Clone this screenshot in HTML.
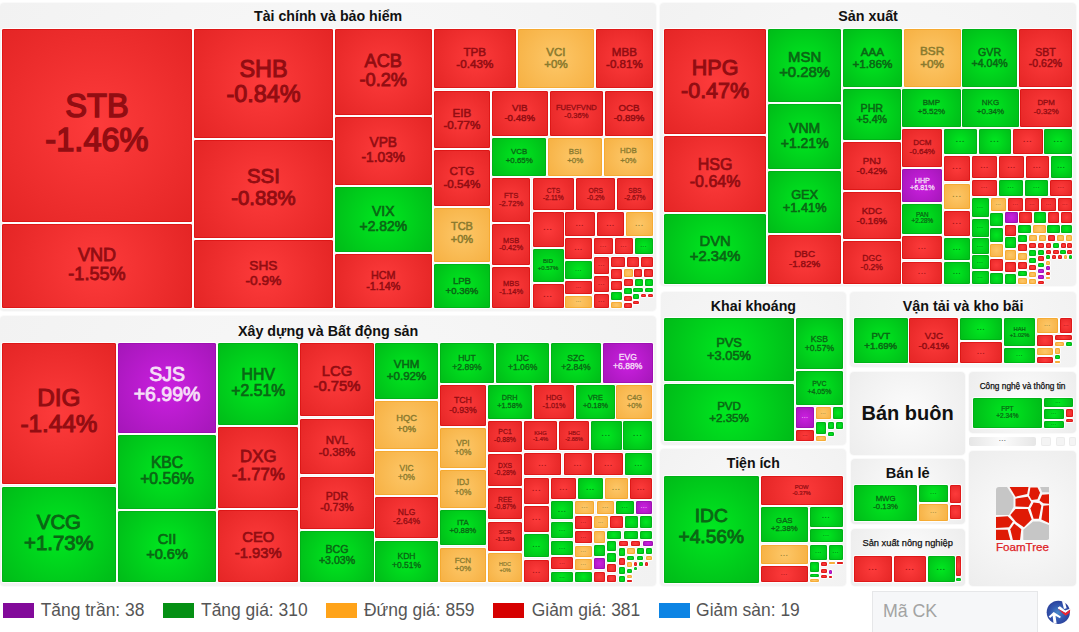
<!DOCTYPE html>
<html><head><meta charset="utf-8"><title>Heatmap</title>
<style>
html,body{margin:0;padding:0;background:#fff;}
body{width:1079px;height:632px;position:relative;overflow:hidden;font-family:"Liberation Sans",sans-serif;}
.g{position:absolute;border-radius:4px;box-shadow:0 0 0 1px #fafafa;}
.gt{position:absolute;left:0;width:100%;text-align:center;font-weight:bold;color:#111;white-space:nowrap;}
.c{position:absolute;border-radius:1.5px;box-shadow:0 0 0 1px rgba(255,255,255,.85);}
.R{background:radial-gradient(circle farthest-corner at center,#fd3b3b 0%,#e42525 100%);color:#920d12;box-shadow:inset 0 0 0 1px rgba(214,10,10,.55),0 0 0 1px rgba(255,255,255,.85);}
.G{background:radial-gradient(circle farthest-corner at center,#00e820 0%,#00ba18 100%);color:#0a6614;box-shadow:inset 0 0 0 1px rgba(0,165,20,.55),0 0 0 1px rgba(255,255,255,.85);}
.O{background:radial-gradient(circle farthest-corner at center,#fdc768 0%,#f6b042 100%);color:#8a7a2e;box-shadow:inset 0 0 0 1px rgba(244,160,30,.55),0 0 0 1px rgba(255,255,255,.85);}
.P{background:radial-gradient(circle farthest-corner at center,#cb20e0 0%,#a416b8 100%);color:#f6dff8;box-shadow:inset 0 0 0 1px rgba(150,10,170,.55),0 0 0 1px rgba(255,255,255,.85);}
.t{position:absolute;left:-20px;right:-20px;text-align:center;font-weight:normal;-webkit-text-stroke:0.045em currentColor;white-space:nowrap;}
.d{position:absolute;left:0;right:0;text-align:center;font-weight:bold;white-space:nowrap;color:inherit;opacity:.85;}
.lg{position:absolute;top:603px;height:14.5px;width:31px;}
.lt{position:absolute;font-size:17.45px;line-height:20px;top:599.5px;color:#555;white-space:nowrap;}
</style></head><body>
<div class="g" style="left:0px;top:3px;width:656.2px;height:308.2px;background:radial-gradient(circle farthest-corner at center,#f9f9f9 0%,#f2f2f2 100%)"><div class="gt" style="top:6.48px;font-size:14.2px;line-height:14.2px">Tài chính và bảo hiểm</div></div>
<div class="g" style="left:660.2px;top:3px;width:415.8px;height:283.3px;background:radial-gradient(circle farthest-corner at center,#f9f9f9 0%,#f2f2f2 100%)"><div class="gt" style="top:6.4px;font-size:14.3px;line-height:14.3px">Sản xuất</div></div>
<div class="g" style="left:0px;top:316px;width:656.2px;height:269.6px;background:radial-gradient(circle farthest-corner at center,#f9f9f9 0%,#f2f2f2 100%)"><div class="gt" style="top:7.5px;font-size:14.3px;line-height:14.3px">Xây dựng và Bất động sản</div></div>
<div class="g" style="left:660.5px;top:291.7px;width:185.8px;height:153.2px;background:radial-gradient(circle farthest-corner at center,#f9f9f9 0%,#f2f2f2 100%)"><div class="gt" style="top:7.08px;font-size:14.2px;line-height:14.2px">Khai khoáng</div></div>
<div class="g" style="left:660.4px;top:449.4px;width:185.8px;height:136.2px;background:radial-gradient(circle farthest-corner at center,#f9f9f9 0%,#f2f2f2 100%)"><div class="gt" style="top:6.36px;font-size:14.1px;line-height:14.1px">Tiện ích</div></div>
<div class="g" style="left:850.3px;top:292px;width:225.7px;height:75.2px;background:radial-gradient(circle farthest-corner at center,#f9f9f9 0%,#f2f2f2 100%)"><div class="gt" style="top:6.5px;font-size:14.3px;line-height:14.3px">Vận tải và kho bãi</div></div>
<div class="g" style="left:850.3px;top:371.6px;width:114.5px;height:83.1px;background:radial-gradient(circle farthest-corner at center,#fcfcfc 0%,#ededed 100%)"><div class="gt" style="top:31.07px;font-size:20px;line-height:20px">Bán buôn</div></div>
<div class="g" style="left:969.1px;top:371.6px;width:106.9px;height:61.1px;background:radial-gradient(circle farthest-corner at center,#fcfcfc 0%,#ededed 100%)"><div class="gt" style="top:10.27px;font-size:8.3px;line-height:8.3px;font-weight:normal;-webkit-text-stroke:0.25px #111">Công nghệ và thông tin</div></div>
<div class="g" style="left:850.5px;top:459.2px;width:114.4px;height:65.2px;background:radial-gradient(circle farthest-corner at center,#fcfcfc 0%,#ededed 100%)"><div class="gt" style="top:6.74px;font-size:14.6px;line-height:14.6px">Bán lẻ</div></div>
<div class="g" style="left:850.5px;top:529.2px;width:114.4px;height:57px;background:radial-gradient(circle farthest-corner at center,#fcfcfc 0%,#ededed 100%)"><div class="gt" style="top:9.73px;font-size:9.3px;line-height:9.3px;font-weight:normal;-webkit-text-stroke:0.25px #111">Sản xuất nông nghiệp</div></div>
<div class="g" style="left:969.1px;top:451.2px;width:107.1px;height:135px;background:radial-gradient(circle farthest-corner at center,#fcfcfc 0%,#ededed 100%)"></div>
<div class="c R" style="left:1.7px;top:29.2px;width:190.6px;height:192.6px"><div class="t" style="top:60.89px;font-size:32.6px;line-height:32.6px">STB</div><div class="t" style="top:95.12px;font-size:32.6px;line-height:32.6px">-1.46%</div></div>
<div class="c R" style="left:1.7px;top:223.7px;width:190.6px;height:84.6px"><div class="t" style="top:22.18px;font-size:18.1px;line-height:18.1px">VND</div><div class="t" style="top:41.18px;font-size:18.1px;line-height:18.1px">-1.55%</div></div>
<div class="c R" style="left:194px;top:29.2px;width:138.9px;height:108.6px"><div class="t" style="top:29.21px;font-size:23.4px;line-height:23.4px">SHB</div><div class="t" style="top:53.77px;font-size:23.4px;line-height:23.4px">-0.84%</div></div>
<div class="c R" style="left:194px;top:139.7px;width:138.9px;height:98.2px"><div class="t" style="top:26.47px;font-size:20.4px;line-height:20.4px">SSI</div><div class="t" style="top:47.89px;font-size:20.4px;line-height:20.4px">-0.88%</div></div>
<div class="c R" style="left:194px;top:240.3px;width:138.9px;height:68px"><div class="t" style="top:18.31px;font-size:13.7px;line-height:13.7px">SHS</div><div class="t" style="top:33.69px;font-size:13.7px;line-height:13.7px">-0.9%</div></div>
<div class="c R" style="left:334.7px;top:29.2px;width:97.2px;height:86.1px"><div class="t" style="top:23.08px;font-size:18.2px;line-height:18.2px">ACB</div><div class="t" style="top:42.2px;font-size:18.2px;line-height:18.2px">-0.2%</div></div>
<div class="c R" style="left:334.7px;top:117.2px;width:97.2px;height:68.1px"><div class="t" style="top:19.28px;font-size:13.8px;line-height:13.8px">VPB</div><div class="t" style="top:33.77px;font-size:13.8px;line-height:13.8px">-1.03%</div></div>
<div class="c G" style="left:334.7px;top:187px;width:97.2px;height:65.3px"><div class="t" style="top:17.58px;font-size:13.9px;line-height:13.9px">VIX</div><div class="t" style="top:33.18px;font-size:13.9px;line-height:13.9px">+2.82%</div></div>
<div class="c R" style="left:334.7px;top:254px;width:97.2px;height:54.3px"><div class="t" style="top:15.89px;font-size:10.8px;line-height:10.8px">HCM</div><div class="t" style="top:27.23px;font-size:10.8px;line-height:10.8px">-1.14%</div></div>
<div class="c R" style="left:433.8px;top:29.2px;width:82px;height:59.3px"><div class="t" style="top:16.46px;font-size:11.7px;line-height:11.7px">TPB</div><div class="t" style="top:28.74px;font-size:11.7px;line-height:11.7px">-0.43%</div></div>
<div class="c O" style="left:517.8px;top:29.2px;width:76.3px;height:59.3px"><div class="t" style="top:17.73px;font-size:11.5px;line-height:11.5px">VCI</div><div class="t" style="top:29.81px;font-size:11.5px;line-height:11.5px">+0%</div></div>
<div class="c R" style="left:596.1px;top:29.2px;width:56.6px;height:59.3px"><div class="t" style="top:16.59px;font-size:11.6px;line-height:11.6px">MBB</div><div class="t" style="top:28.77px;font-size:11.6px;line-height:11.6px">-0.81%</div></div>
<div class="c R" style="left:433.8px;top:90.6px;width:56.3px;height:57.3px"><div class="t" style="top:16.16px;font-size:11.7px;line-height:11.7px">EIB</div><div class="t" style="top:28.44px;font-size:11.7px;line-height:11.7px">-0.77%</div></div>
<div class="c R" style="left:492px;top:90.6px;width:55.5px;height:45.2px"><div class="t" style="top:12.2px;font-size:9.7px;line-height:9.7px">VIB</div><div class="t" style="top:22.38px;font-size:9.7px;line-height:9.7px">-0.48%</div></div>
<div class="c R" style="left:549.5px;top:90.6px;width:53.8px;height:45.2px"><div class="t" style="top:13.38px;font-size:7.6px;line-height:7.6px;-webkit-text-stroke-width:0.038em">FUEVFVND</div><div class="t" style="top:21.36px;font-size:7.6px;line-height:7.6px;-webkit-text-stroke-width:0.038em">-0.36%</div></div>
<div class="c R" style="left:605.3px;top:90.6px;width:47.4px;height:45.2px"><div class="t" style="top:12.2px;font-size:9.7px;line-height:9.7px">OCB</div><div class="t" style="top:22.38px;font-size:9.7px;line-height:9.7px">-0.89%</div></div>
<div class="c G" style="left:492px;top:137.6px;width:54.4px;height:38.2px"><div class="t" style="top:10.11px;font-size:7.9px;line-height:7.9px;-webkit-text-stroke-width:0.038em">VCB</div><div class="t" style="top:19.41px;font-size:7.9px;line-height:7.9px;-webkit-text-stroke-width:0.038em">+0.65%</div></div>
<div class="c O" style="left:548.2px;top:137.6px;width:54px;height:38.2px"><div class="t" style="top:10.11px;font-size:7.9px;line-height:7.9px;-webkit-text-stroke-width:0.038em">BSI</div><div class="t" style="top:19.41px;font-size:7.9px;line-height:7.9px;-webkit-text-stroke-width:0.038em">+0%</div></div>
<div class="c O" style="left:604px;top:137.6px;width:48.7px;height:38.2px"><div class="t" style="top:9.11px;font-size:7.9px;line-height:7.9px;-webkit-text-stroke-width:0.038em">HDB</div><div class="t" style="top:19.41px;font-size:7.9px;line-height:7.9px;-webkit-text-stroke-width:0.038em">+0%</div></div>
<div class="c R" style="left:433.8px;top:150px;width:56.3px;height:55.9px"><div class="t" style="top:15.46px;font-size:11.7px;line-height:11.7px">CTG</div><div class="t" style="top:27.74px;font-size:11.7px;line-height:11.7px">-0.54%</div></div>
<div class="c O" style="left:433.8px;top:208px;width:56.3px;height:53.5px"><div class="t" style="top:13.06px;font-size:11px;line-height:11px">TCB</div><div class="t" style="top:25.61px;font-size:11px;line-height:11px">+0%</div></div>
<div class="c G" style="left:433.8px;top:263.6px;width:56.3px;height:44.7px"><div class="t" style="top:12.53px;font-size:9.6px;line-height:9.6px">LPB</div><div class="t" style="top:22.61px;font-size:9.6px;line-height:9.6px">+0.36%</div></div>
<div class="c R" style="left:492px;top:177.8px;width:38.4px;height:44.1px"><div class="t" style="top:14.69px;font-size:7.7px;line-height:7.7px;-webkit-text-stroke-width:0.038em">FTS</div><div class="t" style="top:21.77px;font-size:7.7px;line-height:7.7px;-webkit-text-stroke-width:0.038em">-2.72%</div></div>
<div class="c R" style="left:532.5px;top:177.8px;width:41.9px;height:32.5px"><div class="t" style="top:10.31px;font-size:6.7px;line-height:6.7px;-webkit-text-stroke-width:0.038em">CTS</div><div class="t" style="top:17.35px;font-size:6.7px;line-height:6.7px;-webkit-text-stroke-width:0.038em">-2.11%</div></div>
<div class="c R" style="left:576.4px;top:177.8px;width:38.9px;height:32.5px"><div class="t" style="top:10.31px;font-size:6.7px;line-height:6.7px;-webkit-text-stroke-width:0.038em">ORS</div><div class="t" style="top:17.35px;font-size:6.7px;line-height:6.7px;-webkit-text-stroke-width:0.038em">-0.2%</div></div>
<div class="c R" style="left:617.1px;top:177.8px;width:35.6px;height:32.5px"><div class="t" style="top:10.31px;font-size:6.7px;line-height:6.7px;-webkit-text-stroke-width:0.038em">SBS</div><div class="t" style="top:17.35px;font-size:6.7px;line-height:6.7px;-webkit-text-stroke-width:0.038em">-2.67%</div></div>
<div class="c R" style="left:492px;top:224px;width:38.4px;height:41px"><div class="t" style="top:13.26px;font-size:7.5px;line-height:7.5px;-webkit-text-stroke-width:0.038em">MSB</div><div class="t" style="top:20.14px;font-size:7.5px;line-height:7.5px;-webkit-text-stroke-width:0.038em">-0.42%</div></div>
<div class="c R" style="left:492px;top:267.2px;width:38.4px;height:41.1px"><div class="t" style="top:13.26px;font-size:7.5px;line-height:7.5px;-webkit-text-stroke-width:0.038em">MBS</div><div class="t" style="top:21.14px;font-size:7.5px;line-height:7.5px;-webkit-text-stroke-width:0.038em">-1.14%</div></div>
<div class="c R" style="left:532.5px;top:212.4px;width:31px;height:34.8px"><div class="d" style="top:12.09px;font-size:8px;line-height:8px;letter-spacing:0.96px">...</div></div>
<div class="c G" style="left:532.5px;top:249.2px;width:31px;height:32.4px"><div class="t" style="top:9.07px;font-size:6px;line-height:6px;-webkit-text-stroke-width:0.038em">BID</div><div class="t" style="top:15.37px;font-size:6px;line-height:6px;-webkit-text-stroke-width:0.038em">+0.57%</div></div>
<div class="c R" style="left:532.5px;top:283.6px;width:31px;height:24.7px"><div class="d" style="top:7.04px;font-size:8px;line-height:8px;letter-spacing:0.96px">...</div></div>
<div class="c R" style="left:565.2px;top:212.4px;width:29.6px;height:23.9px"><div class="d" style="top:7.41px;font-size:7px;line-height:7px;letter-spacing:0.84px">...</div></div>
<div class="c R" style="left:596.9px;top:212.4px;width:27.5px;height:23.9px"><div class="d" style="top:7.41px;font-size:7px;line-height:7px;letter-spacing:0.84px">...</div></div>
<div class="c O" style="left:626.3px;top:212.4px;width:26.4px;height:23.9px"><div class="d" style="top:7.41px;font-size:7px;line-height:7px;letter-spacing:0.84px">...</div></div>
<div class="c R" style="left:565.2px;top:238.2px;width:26.9px;height:20.8px"><div class="d" style="top:5.86px;font-size:7px;line-height:7px;letter-spacing:0.84px">...</div></div>
<div class="c G" style="left:565.2px;top:261.2px;width:26.9px;height:17.6px"><div class="d" style="top:5.43px;font-size:5.5px;line-height:5.5px;letter-spacing:0.66px">...</div></div>
<div class="c R" style="left:565.2px;top:281px;width:26.9px;height:12.9px"><div class="d" style="top:3.86px;font-size:4.5px;line-height:4.5px;letter-spacing:0.54px">...</div></div>
<div class="c O" style="left:565.2px;top:295.7px;width:26.9px;height:12.6px"><div class="d" style="top:3.71px;font-size:4.5px;line-height:4.5px;letter-spacing:0.54px">...</div></div>
<div class="c R" style="left:594.2px;top:238.2px;width:18.4px;height:16px"><div class="d" style="top:4.63px;font-size:5.5px;line-height:5.5px;letter-spacing:0.66px">...</div></div>
<div class="c R" style="left:614.5px;top:238.2px;width:18.4px;height:16px"><div class="d" style="top:4.63px;font-size:5.5px;line-height:5.5px;letter-spacing:0.66px">...</div></div>
<div class="c G" style="left:634.7px;top:238.2px;width:18px;height:16px"><div class="d" style="top:4.63px;font-size:5.5px;line-height:5.5px;letter-spacing:0.66px">...</div></div>
<div class="c R" style="left:594.2px;top:256.5px;width:14.9px;height:17.7px"><div class="d" style="top:5.48px;font-size:5.5px;line-height:5.5px;letter-spacing:0.66px">...</div></div>
<div class="c R" style="left:594.2px;top:276.2px;width:14.9px;height:15.5px"><div class="d" style="top:4.38px;font-size:5.5px;line-height:5.5px;letter-spacing:0.66px">...</div></div>
<div class="c R" style="left:594.2px;top:293.8px;width:14.9px;height:14.5px"><div class="d" style="top:3.88px;font-size:5.5px;line-height:5.5px;letter-spacing:0.66px">...</div></div>
<div class="c R" style="left:610.7px;top:256.5px;width:14.5px;height:10.8px"></div>
<div class="c R" style="left:627px;top:256.5px;width:12px;height:10.8px"></div>
<div class="c R" style="left:640.9px;top:256.5px;width:11.8px;height:10.8px"></div>
<div class="c R" style="left:610.7px;top:269.4px;width:11.4px;height:9.4px"></div>
<div class="c R" style="left:610.7px;top:280.8px;width:11.4px;height:9.4px"></div>
<div class="c G" style="left:610.7px;top:292px;width:11.4px;height:7.9px"></div>
<div class="c O" style="left:610.7px;top:301.5px;width:11.4px;height:6.8px"></div>
<div class="c O" style="left:624.1px;top:269.4px;width:8.5px;height:7.9px"></div>
<div class="c R" style="left:634.2px;top:269.4px;width:8.3px;height:7.9px"></div>
<div class="c R" style="left:644.3px;top:269.4px;width:8.4px;height:7.9px"></div>
<div class="c R" style="left:624.1px;top:279.3px;width:8.8px;height:6.9px"></div>
<div class="c G" style="left:634.5px;top:279.3px;width:8.5px;height:6.9px"></div>
<div class="c G" style="left:644.8px;top:279.3px;width:7.9px;height:6.9px"></div>
<div class="c G" style="left:624.1px;top:288.3px;width:7.5px;height:5.6px"></div>
<div class="c G" style="left:633.2px;top:288.3px;width:9.8px;height:3.7px"></div>
<div class="c G" style="left:644.8px;top:288.3px;width:7.9px;height:3.7px"></div>
<div class="c R" style="left:624.1px;top:295.7px;width:7.5px;height:5.5px"></div>
<div class="c G" style="left:633.2px;top:293.7px;width:6.1px;height:5.3px"></div>
<div class="c R" style="left:641.1px;top:294.2px;width:5px;height:2.9px"></div>
<div class="c R" style="left:647.9px;top:294.2px;width:4.8px;height:2.9px"></div>
<div class="c R" style="left:624.1px;top:303px;width:7.5px;height:5.3px"></div>
<div class="c R" style="left:633.2px;top:300.9px;width:6.1px;height:3.2px"></div>
<div class="c R" style="left:664px;top:29.2px;width:102.2px;height:105px"><div class="t" style="top:28.91px;font-size:21.5px;line-height:21.5px">HPG</div><div class="t" style="top:51.49px;font-size:21.5px;line-height:21.5px">-0.47%</div></div>
<div class="c R" style="left:664px;top:135.9px;width:102.2px;height:76.4px"><div class="t" style="top:21.31px;font-size:16px;line-height:16px">HSG</div><div class="t" style="top:38.11px;font-size:16px;line-height:16px">-0.64%</div></div>
<div class="c G" style="left:664px;top:214.4px;width:102.2px;height:69.2px"><div class="t" style="top:19.6px;font-size:14.8px;line-height:14.8px">DVN</div><div class="t" style="top:34.14px;font-size:14.8px;line-height:14.8px">+2.34%</div></div>
<div class="c G" style="left:768.1px;top:29.2px;width:73.1px;height:72.6px"><div class="t" style="top:20.87px;font-size:14.9px;line-height:14.9px">MSN</div><div class="t" style="top:35.51px;font-size:14.9px;line-height:14.9px">+0.28%</div></div>
<div class="c G" style="left:768.1px;top:104px;width:73.1px;height:65.3px"><div class="t" style="top:17.4px;font-size:14px;line-height:14px">VNM</div><div class="t" style="top:32.1px;font-size:14px;line-height:14px">+1.21%</div></div>
<div class="c G" style="left:768.1px;top:171.4px;width:73.1px;height:61.4px"><div class="t" style="top:17.44px;font-size:12.8px;line-height:12.8px">GEX</div><div class="t" style="top:30.88px;font-size:12.8px;line-height:12.8px">+1.41%</div></div>
<div class="c R" style="left:768.1px;top:234.9px;width:73.1px;height:48.7px"><div class="t" style="top:13.86px;font-size:9.8px;line-height:9.8px">DBC</div><div class="t" style="top:24.14px;font-size:9.8px;line-height:9.8px">-1.82%</div></div>
<div class="c G" style="left:843px;top:29.2px;width:58.9px;height:58px"><div class="t" style="top:16.41px;font-size:11.7px;line-height:11.7px">AAA</div><div class="t" style="top:28.69px;font-size:11.7px;line-height:11.7px">+1.86%</div></div>
<div class="c G" style="left:843px;top:88.9px;width:57.6px;height:50.8px"><div class="t" style="top:13.77px;font-size:10.7px;line-height:10.7px">PHR</div><div class="t" style="top:25.01px;font-size:10.7px;line-height:10.7px">+5.4%</div></div>
<div class="c R" style="left:843px;top:141.7px;width:57.6px;height:48.6px"><div class="t" style="top:13.98px;font-size:9.6px;line-height:9.6px">PNJ</div><div class="t" style="top:24.06px;font-size:9.6px;line-height:9.6px">-0.42%</div></div>
<div class="c R" style="left:843px;top:192.4px;width:57.6px;height:46.3px"><div class="t" style="top:14.08px;font-size:9.6px;line-height:9.6px">KDC</div><div class="t" style="top:23.16px;font-size:9.6px;line-height:9.6px">-0.16%</div></div>
<div class="c R" style="left:843px;top:241px;width:57.6px;height:42.6px"><div class="t" style="top:13.26px;font-size:8.6px;line-height:8.6px;-webkit-text-stroke-width:0.038em">DGC</div><div class="t" style="top:22.28px;font-size:8.6px;line-height:8.6px;-webkit-text-stroke-width:0.038em">-0.2%</div></div>
<div class="c O" style="left:903.7px;top:29.2px;width:56.9px;height:57.7px"><div class="t" style="top:16.46px;font-size:11.8px;line-height:11.8px">BSR</div><div class="t" style="top:29.85px;font-size:11.8px;line-height:11.8px">+0%</div></div>
<div class="c G" style="left:962.3px;top:29.2px;width:54.6px;height:57.7px"><div class="t" style="top:18.11px;font-size:10.6px;line-height:10.6px">GVR</div><div class="t" style="top:29.24px;font-size:10.6px;line-height:10.6px">+4.04%</div></div>
<div class="c R" style="left:1018.7px;top:29.2px;width:53.6px;height:57.7px"><div class="t" style="top:18.25px;font-size:10.5px;line-height:10.5px">SBT</div><div class="t" style="top:29.27px;font-size:10.5px;line-height:10.5px">-0.62%</div></div>
<div class="c G" style="left:902.2px;top:88.7px;width:58.4px;height:37.9px"><div class="t" style="top:9.83px;font-size:8px;line-height:8px;-webkit-text-stroke-width:0.038em">BMP</div><div class="t" style="top:19.23px;font-size:8px;line-height:8px;-webkit-text-stroke-width:0.038em">+5.52%</div></div>
<div class="c G" style="left:962.3px;top:88.7px;width:56.4px;height:37.9px"><div class="t" style="top:9.83px;font-size:8px;line-height:8px;-webkit-text-stroke-width:0.038em">NKG</div><div class="t" style="top:19.23px;font-size:8px;line-height:8px;-webkit-text-stroke-width:0.038em">+0.34%</div></div>
<div class="c R" style="left:1020.1px;top:88.7px;width:52.2px;height:37.9px"><div class="t" style="top:9.96px;font-size:7.9px;line-height:7.9px;-webkit-text-stroke-width:0.038em">DPM</div><div class="t" style="top:19.26px;font-size:7.9px;line-height:7.9px;-webkit-text-stroke-width:0.038em">-0.32%</div></div>
<div class="c R" style="left:902.2px;top:128.5px;width:40.2px;height:38px"><div class="t" style="top:10.23px;font-size:8px;line-height:8px;-webkit-text-stroke-width:0.038em">DCM</div><div class="t" style="top:19.63px;font-size:8px;line-height:8px;-webkit-text-stroke-width:0.038em">-0.64%</div></div>
<div class="c P" style="left:902.2px;top:168.5px;width:40.2px;height:33.5px"><div class="t" style="top:8.83px;font-size:7.2px;line-height:7.2px;-webkit-text-stroke-width:0.038em">HHP</div><div class="t" style="top:15.39px;font-size:7.2px;line-height:7.2px;-webkit-text-stroke-width:0.038em">+6.81%</div></div>
<div class="c G" style="left:902.2px;top:203.9px;width:40.2px;height:29.7px"><div class="t" style="top:8.56px;font-size:6.3px;line-height:6.3px;-webkit-text-stroke-width:0.038em">PAN</div><div class="t" style="top:14.18px;font-size:6.3px;line-height:6.3px;-webkit-text-stroke-width:0.038em">+2.28%</div></div>
<div class="c R" style="left:902.2px;top:235.6px;width:40.2px;height:23.8px"><div class="d" style="top:7.36px;font-size:7px;line-height:7px;letter-spacing:0.84px">...</div></div>
<div class="c R" style="left:902.2px;top:261.5px;width:40.2px;height:22.1px"><div class="d" style="top:6.51px;font-size:7px;line-height:7px;letter-spacing:0.84px">...</div></div>
<div class="c G" style="left:944.1px;top:128.5px;width:32.9px;height:25.3px"><div class="d" style="top:7.34px;font-size:8px;line-height:8px;letter-spacing:0.96px">...</div></div>
<div class="c G" style="left:978.7px;top:128.5px;width:32.4px;height:25.3px"><div class="d" style="top:7.34px;font-size:8px;line-height:8px;letter-spacing:0.96px">...</div></div>
<div class="c R" style="left:1012.9px;top:128.5px;width:29.8px;height:25.3px"><div class="d" style="top:7.34px;font-size:8px;line-height:8px;letter-spacing:0.96px">...</div></div>
<div class="c G" style="left:1044.4px;top:128.5px;width:27.9px;height:25.3px"><div class="d" style="top:7.34px;font-size:8px;line-height:8px;letter-spacing:0.96px">...</div></div>
<div class="c R" style="left:944.1px;top:155.8px;width:26px;height:25.7px"><div class="d" style="top:7.54px;font-size:8px;line-height:8px;letter-spacing:0.96px">...</div></div>
<div class="c R" style="left:971.7px;top:155.8px;width:25.8px;height:22px"><div class="d" style="top:6.46px;font-size:7px;line-height:7px;letter-spacing:0.84px">...</div></div>
<div class="c R" style="left:999.3px;top:155.8px;width:24.8px;height:22px"><div class="d" style="top:6.46px;font-size:7px;line-height:7px;letter-spacing:0.84px">...</div></div>
<div class="c R" style="left:1025.9px;top:155.8px;width:22.7px;height:22px"><div class="d" style="top:6.46px;font-size:7px;line-height:7px;letter-spacing:0.84px">...</div></div>
<div class="c G" style="left:1050.5px;top:155.8px;width:21.8px;height:22px"><div class="d" style="top:6.46px;font-size:7px;line-height:7px;letter-spacing:0.84px">...</div></div>
<div class="c R" style="left:971.7px;top:179.6px;width:25.4px;height:16.5px"><div class="d" style="top:4.88px;font-size:5.5px;line-height:5.5px;letter-spacing:0.66px">...</div></div>
<div class="c G" style="left:998.7px;top:179.6px;width:24.4px;height:16.5px"><div class="d" style="top:4.88px;font-size:5.5px;line-height:5.5px;letter-spacing:0.66px">...</div></div>
<div class="c G" style="left:1024.9px;top:179.6px;width:23.3px;height:16.5px"><div class="d" style="top:4.88px;font-size:5.5px;line-height:5.5px;letter-spacing:0.66px">...</div></div>
<div class="c R" style="left:1050px;top:179.6px;width:22.3px;height:16.5px"><div class="d" style="top:4.88px;font-size:5.5px;line-height:5.5px;letter-spacing:0.66px">...</div></div>
<div class="c O" style="left:944.1px;top:183.5px;width:26px;height:25.4px"><div class="d" style="top:7.39px;font-size:8px;line-height:8px;letter-spacing:0.96px">...</div></div>
<div class="c R" style="left:944.1px;top:210.9px;width:26px;height:24.9px"><div class="d" style="top:7.14px;font-size:8px;line-height:8px;letter-spacing:0.96px">...</div></div>
<div class="c G" style="left:944.1px;top:237.8px;width:26px;height:22.1px"><div class="d" style="top:6.51px;font-size:7px;line-height:7px;letter-spacing:0.84px">...</div></div>
<div class="c G" style="left:944.1px;top:261.8px;width:26px;height:21.8px"><div class="d" style="top:6.36px;font-size:7px;line-height:7px;letter-spacing:0.84px">...</div></div>
<div class="c G" style="left:971.7px;top:198px;width:17.2px;height:19px"><div class="d" style="top:6.13px;font-size:5.5px;line-height:5.5px;letter-spacing:0.66px">...</div></div>
<div class="c G" style="left:971.7px;top:218.9px;width:17.2px;height:17.8px"><div class="d" style="top:5.53px;font-size:5.5px;line-height:5.5px;letter-spacing:0.66px">...</div></div>
<div class="c G" style="left:971.7px;top:238.4px;width:17.2px;height:15.2px"><div class="d" style="top:4.23px;font-size:5.5px;line-height:5.5px;letter-spacing:0.66px">...</div></div>
<div class="c G" style="left:971.7px;top:255.4px;width:17.2px;height:13.5px"><div class="d" style="top:3.38px;font-size:5.5px;line-height:5.5px;letter-spacing:0.66px">...</div></div>
<div class="c G" style="left:971.7px;top:270.8px;width:17.2px;height:12.8px"><div class="d" style="top:3.81px;font-size:4.5px;line-height:4.5px;letter-spacing:0.54px">...</div></div>
<div class="c O" style="left:990.5px;top:198px;width:15.7px;height:12.8px"><div class="d" style="top:3.81px;font-size:4.5px;line-height:4.5px;letter-spacing:0.54px">...</div></div>
<div class="c R" style="left:1008px;top:198px;width:15.1px;height:12.8px"><div class="d" style="top:3.81px;font-size:4.5px;line-height:4.5px;letter-spacing:0.54px">...</div></div>
<div class="c R" style="left:1024.7px;top:198px;width:14.8px;height:12.8px"><div class="d" style="top:3.81px;font-size:4.5px;line-height:4.5px;letter-spacing:0.54px">...</div></div>
<div class="c R" style="left:1041.3px;top:198px;width:14.8px;height:12.8px"><div class="d" style="top:3.81px;font-size:4.5px;line-height:4.5px;letter-spacing:0.54px">...</div></div>
<div class="c R" style="left:1057.7px;top:198px;width:14.6px;height:12.8px"><div class="d" style="top:3.81px;font-size:4.5px;line-height:4.5px;letter-spacing:0.54px">...</div></div>
<div class="c G" style="left:990.3px;top:212.7px;width:12.9px;height:13.6px"></div>
<div class="c G" style="left:990.3px;top:227.9px;width:12.9px;height:13.9px"></div>
<div class="c O" style="left:990.3px;top:243.5px;width:12.9px;height:13px"></div>
<div class="c R" style="left:990.3px;top:258.5px;width:12.9px;height:12.4px"></div>
<div class="c G" style="left:990.3px;top:272.9px;width:12.9px;height:10.7px"></div>
<div class="c P" style="left:1004.7px;top:212.3px;width:13px;height:10.8px"></div>
<div class="c R" style="left:1019.2px;top:212.3px;width:12.8px;height:10.8px"></div>
<div class="c G" style="left:1033.6px;top:212.3px;width:12.5px;height:10.8px"></div>
<div class="c R" style="left:1047.7px;top:212.3px;width:11.4px;height:10.8px"></div>
<div class="c R" style="left:1060.9px;top:212.3px;width:11.4px;height:10.8px"></div>
<div class="c R" style="left:1004.7px;top:224.9px;width:11.6px;height:10.7px"></div>
<div class="c G" style="left:1004.7px;top:237.3px;width:11.6px;height:10.7px"></div>
<div class="c O" style="left:1004.7px;top:249.6px;width:11.6px;height:10.3px"></div>
<div class="c R" style="left:1004.7px;top:261.5px;width:11.6px;height:10.6px"></div>
<div class="c G" style="left:1004.7px;top:273.7px;width:11.6px;height:9.9px"></div>
<div class="c G" style="left:1017.5px;top:224.9px;width:13.6px;height:7.9px"></div>
<div class="c O" style="left:1032.6px;top:224.9px;width:13px;height:7.9px"></div>
<div class="c G" style="left:1047.2px;top:224.9px;width:12.8px;height:7.9px"></div>
<div class="c G" style="left:1061.4px;top:224.9px;width:10.9px;height:7.9px"></div>
<div class="c G" style="left:1017.5px;top:234.7px;width:9.9px;height:7.7px"></div>
<div class="c R" style="left:1017.5px;top:244.4px;width:9.9px;height:7px"></div>
<div class="c O" style="left:1017.5px;top:253.4px;width:9.9px;height:7px"></div>
<div class="c R" style="left:1017.5px;top:262.2px;width:9.9px;height:6.7px"></div>
<div class="c G" style="left:1017.5px;top:270.7px;width:9.9px;height:5.6px"></div>
<div class="c O" style="left:1017.5px;top:278.1px;width:9.9px;height:5.5px"></div>
<div class="c O" style="left:1029.2px;top:234.7px;width:7.5px;height:6.2px"></div>
<div class="c O" style="left:1038.7px;top:234.7px;width:7.4px;height:6.2px"></div>
<div class="c R" style="left:1047.8px;top:234.7px;width:7.4px;height:6.2px"></div>
<div class="c O" style="left:1056.8px;top:234.7px;width:7.1px;height:6.2px"></div>
<div class="c O" style="left:1065.6px;top:234.7px;width:6.7px;height:6.2px"></div>
<div class="c R" style="left:1029.2px;top:242.8px;width:7px;height:5.2px"></div>
<div class="c R" style="left:1037.8px;top:242.8px;width:6.4px;height:5.2px"></div>
<div class="c R" style="left:1045.8px;top:242.8px;width:5.7px;height:5.2px"></div>
<div class="c G" style="left:1053.4px;top:242.8px;width:5.4px;height:5.2px"></div>
<div class="c R" style="left:1060.6px;top:242.8px;width:5px;height:5.2px"></div>
<div class="c R" style="left:1067.3px;top:242.8px;width:5px;height:5.2px"></div>
<div class="c G" style="left:1029.2px;top:250.3px;width:7px;height:5.4px"></div>
<div class="c G" style="left:1029.2px;top:257.6px;width:7px;height:5.7px"></div>
<div class="c R" style="left:1029.2px;top:264.9px;width:7px;height:5.5px"></div>
<div class="c O" style="left:1029.2px;top:272.4px;width:7px;height:4.8px"></div>
<div class="c O" style="left:1029.2px;top:278.8px;width:7px;height:4.8px"></div>
<div class="c G" style="left:1037.8px;top:250px;width:6.1px;height:4.5px"></div>
<div class="c R" style="left:1037.8px;top:256.4px;width:6.1px;height:4.7px"></div>
<div class="c G" style="left:1037.8px;top:262.7px;width:6.1px;height:4.3px"></div>
<div class="c P" style="left:1037.8px;top:268.6px;width:6.1px;height:4.4px"></div>
<div class="c P" style="left:1037.8px;top:274.6px;width:6.1px;height:4px"></div>
<div class="c R" style="left:1037.8px;top:280.5px;width:6.1px;height:3.1px"></div>
<div class="c R" style="left:1045.5px;top:250px;width:5.7px;height:3.5px"></div>
<div class="c R" style="left:1052.9px;top:250px;width:5.7px;height:3.5px"></div>
<div class="c G" style="left:1060.2px;top:250px;width:5.4px;height:3.5px"></div>
<div class="c R" style="left:1067px;top:250px;width:5.3px;height:3.5px"></div>
<div class="c G" style="left:1045.5px;top:255.4px;width:4.6px;height:3.7px"></div>
<div class="c R" style="left:1051.7px;top:255.4px;width:4.5px;height:3.7px"></div>
<div class="c R" style="left:1058px;top:255.4px;width:3.7px;height:3.7px"></div>
<div class="c O" style="left:1063.6px;top:255.4px;width:3.2px;height:3.7px"></div>
<div class="c G" style="left:1068.7px;top:255.4px;width:3.6px;height:3.7px"></div>
<div class="c O" style="left:1045.5px;top:261px;width:4px;height:3.5px"></div>
<div class="c P" style="left:1045.5px;top:266.4px;width:4px;height:3.7px"></div>
<div class="c R" style="left:1045.5px;top:271.7px;width:4px;height:3.1px"></div>
<div class="c O" style="left:1045.5px;top:276.6px;width:4px;height:2.8px"></div>
<div class="c R" style="left:1.8px;top:342.7px;width:114.2px;height:141.4px"><div class="t" style="top:43.67px;font-size:24.3px;line-height:24.3px">DIG</div><div class="t" style="top:69.19px;font-size:24.3px;line-height:24.3px">-1.44%</div></div>
<div class="c G" style="left:1.8px;top:486.7px;width:114.2px;height:95.6px"><div class="t" style="top:25.22px;font-size:20.4px;line-height:20.4px">VCG</div><div class="t" style="top:46.64px;font-size:20.4px;line-height:20.4px">+1.73%</div></div>
<div class="c P" style="left:117.7px;top:342.7px;width:98.7px;height:90.1px"><div class="t" style="top:22.6px;font-size:19.5px;line-height:19.5px">SJS</div><div class="t" style="top:42.08px;font-size:19.5px;line-height:19.5px">+6.99%</div></div>
<div class="c G" style="left:117.7px;top:434.7px;width:98.7px;height:74.2px"><div class="t" style="top:19.92px;font-size:15.7px;line-height:15.7px">KBC</div><div class="t" style="top:36.4px;font-size:15.7px;line-height:15.7px">+0.56%</div></div>
<div class="c G" style="left:117.7px;top:511.2px;width:98.7px;height:71.1px"><div class="t" style="top:21.23px;font-size:14.6px;line-height:14.6px">CII</div><div class="t" style="top:35.56px;font-size:14.6px;line-height:14.6px">+0.6%</div></div>
<div class="c G" style="left:218.2px;top:342.7px;width:80.2px;height:82.5px"><div class="t" style="top:24.68px;font-size:15.8px;line-height:15.8px">HHV</div><div class="t" style="top:40.27px;font-size:15.8px;line-height:15.8px">+2.51%</div></div>
<div class="c R" style="left:218.2px;top:427.4px;width:80.2px;height:80.4px"><div class="t" style="top:21.61px;font-size:16.8px;line-height:16.8px">DXG</div><div class="t" style="top:39.25px;font-size:16.8px;line-height:16.8px">-1.77%</div></div>
<div class="c R" style="left:218.2px;top:510.1px;width:80.2px;height:72.2px"><div class="t" style="top:20.4px;font-size:14.8px;line-height:14.8px">CEO</div><div class="t" style="top:35.94px;font-size:14.8px;line-height:14.8px">-1.93%</div></div>
<div class="c R" style="left:300.3px;top:342.7px;width:73.4px;height:73.5px"><div class="t" style="top:21.4px;font-size:14.8px;line-height:14.8px">LCG</div><div class="t" style="top:35.94px;font-size:14.8px;line-height:14.8px">-0.75%</div></div>
<div class="c R" style="left:300.3px;top:418.6px;width:73.4px;height:55.5px"><div class="t" style="top:16.63px;font-size:11.5px;line-height:11.5px">NVL</div><div class="t" style="top:28.71px;font-size:11.5px;line-height:11.5px">-0.38%</div></div>
<div class="c R" style="left:300.3px;top:476.7px;width:73.4px;height:52px"><div class="t" style="top:14.46px;font-size:10.6px;line-height:10.6px">PDR</div><div class="t" style="top:25.59px;font-size:10.6px;line-height:10.6px">-0.73%</div></div>
<div class="c G" style="left:300.3px;top:531.3px;width:73.4px;height:51px"><div class="t" style="top:12.96px;font-size:10.6px;line-height:10.6px">BCG</div><div class="t" style="top:24.1px;font-size:10.6px;line-height:10.6px">+3.03%</div></div>
<div class="c G" style="left:375.4px;top:342.7px;width:62.3px;height:56px"><div class="t" style="top:15.14px;font-size:11.6px;line-height:11.6px">VHM</div><div class="t" style="top:27.32px;font-size:11.6px;line-height:11.6px">+0.92%</div></div>
<div class="c O" style="left:375.4px;top:400.7px;width:62.3px;height:47.9px"><div class="t" style="top:13.15px;font-size:9.3px;line-height:9.3px">HQC</div><div class="t" style="top:23.91px;font-size:9.3px;line-height:9.3px">+0%</div></div>
<div class="c O" style="left:375.4px;top:450.9px;width:62.3px;height:43.7px"><div class="t" style="top:12.73px;font-size:8.4px;line-height:8.4px;-webkit-text-stroke-width:0.038em">VIC</div><div class="t" style="top:22.55px;font-size:8.4px;line-height:8.4px;-webkit-text-stroke-width:0.038em">+0%</div></div>
<div class="c R" style="left:375.4px;top:496.9px;width:62.3px;height:41.2px"><div class="t" style="top:11.39px;font-size:8.5px;line-height:8.5px;-webkit-text-stroke-width:0.038em">NLG</div><div class="t" style="top:20.31px;font-size:8.5px;line-height:8.5px;-webkit-text-stroke-width:0.038em">-2.64%</div></div>
<div class="c G" style="left:375.4px;top:540.7px;width:62.3px;height:41.6px"><div class="t" style="top:11.04px;font-size:8.5px;line-height:8.5px;-webkit-text-stroke-width:0.038em">KDH</div><div class="t" style="top:19.96px;font-size:8.5px;line-height:8.5px;-webkit-text-stroke-width:0.038em">+0.51%</div></div>
<div class="c G" style="left:439.6px;top:342.7px;width:54.8px;height:40.2px"><div class="t" style="top:11.76px;font-size:8.6px;line-height:8.6px;-webkit-text-stroke-width:0.038em">HUT</div><div class="t" style="top:20.78px;font-size:8.6px;line-height:8.6px;-webkit-text-stroke-width:0.038em">+2.89%</div></div>
<div class="c G" style="left:496.4px;top:342.7px;width:52.5px;height:40.2px"><div class="t" style="top:11.76px;font-size:8.6px;line-height:8.6px;-webkit-text-stroke-width:0.038em">IJC</div><div class="t" style="top:20.78px;font-size:8.6px;line-height:8.6px;-webkit-text-stroke-width:0.038em">+1.06%</div></div>
<div class="c G" style="left:550.9px;top:342.7px;width:50.1px;height:40.2px"><div class="t" style="top:11.76px;font-size:8.6px;line-height:8.6px;-webkit-text-stroke-width:0.038em">SZC</div><div class="t" style="top:20.78px;font-size:8.6px;line-height:8.6px;-webkit-text-stroke-width:0.038em">+2.84%</div></div>
<div class="c P" style="left:603px;top:342.7px;width:49.5px;height:40.2px"><div class="t" style="top:10.76px;font-size:8.6px;line-height:8.6px;-webkit-text-stroke-width:0.038em">EVG</div><div class="t" style="top:19.78px;font-size:8.6px;line-height:8.6px;-webkit-text-stroke-width:0.038em">+6.88%</div></div>
<div class="c R" style="left:439.6px;top:384.8px;width:46.6px;height:41.6px"><div class="t" style="top:11.32px;font-size:8.7px;line-height:8.7px;-webkit-text-stroke-width:0.038em">TCH</div><div class="t" style="top:21.46px;font-size:8.7px;line-height:8.7px;-webkit-text-stroke-width:0.038em">-0.93%</div></div>
<div class="c O" style="left:439.6px;top:428.4px;width:46.6px;height:39.2px"><div class="t" style="top:10.33px;font-size:8.4px;line-height:8.4px;-webkit-text-stroke-width:0.038em">VPI</div><div class="t" style="top:19.15px;font-size:8.4px;line-height:8.4px;-webkit-text-stroke-width:0.038em">+0%</div></div>
<div class="c O" style="left:439.6px;top:469.8px;width:46.6px;height:37.9px"><div class="t" style="top:8.51px;font-size:8.3px;line-height:8.3px;-webkit-text-stroke-width:0.038em">IDJ</div><div class="t" style="top:18.23px;font-size:8.3px;line-height:8.3px;-webkit-text-stroke-width:0.038em">+0%</div></div>
<div class="c G" style="left:439.6px;top:510.2px;width:46.6px;height:35.3px"><div class="t" style="top:8.45px;font-size:7.8px;line-height:7.8px;-webkit-text-stroke-width:0.038em">ITA</div><div class="t" style="top:16.64px;font-size:7.8px;line-height:7.8px;-webkit-text-stroke-width:0.038em">+0.88%</div></div>
<div class="c O" style="left:439.6px;top:547.9px;width:46.6px;height:34.4px"><div class="t" style="top:8.88px;font-size:8px;line-height:8px;-webkit-text-stroke-width:0.038em">FCN</div><div class="t" style="top:17.28px;font-size:8px;line-height:8px;-webkit-text-stroke-width:0.038em">+0%</div></div>
<div class="c G" style="left:487.9px;top:384.8px;width:43.7px;height:33.9px"><div class="t" style="top:9.44px;font-size:7.3px;line-height:7.3px;-webkit-text-stroke-width:0.038em">DRH</div><div class="t" style="top:17.1px;font-size:7.3px;line-height:7.3px;-webkit-text-stroke-width:0.038em">+1.58%</div></div>
<div class="c R" style="left:533.8px;top:384.8px;width:40.5px;height:33.9px"><div class="t" style="top:9.44px;font-size:7.3px;line-height:7.3px;-webkit-text-stroke-width:0.038em">HDG</div><div class="t" style="top:17.1px;font-size:7.3px;line-height:7.3px;-webkit-text-stroke-width:0.038em">-1.01%</div></div>
<div class="c G" style="left:576.3px;top:384.8px;width:38.4px;height:33.9px"><div class="t" style="top:9.44px;font-size:7.3px;line-height:7.3px;-webkit-text-stroke-width:0.038em">VRE</div><div class="t" style="top:17.1px;font-size:7.3px;line-height:7.3px;-webkit-text-stroke-width:0.038em">+0.18%</div></div>
<div class="c O" style="left:616.4px;top:384.8px;width:36.1px;height:33.9px"><div class="t" style="top:9.44px;font-size:7.3px;line-height:7.3px;-webkit-text-stroke-width:0.038em">C4G</div><div class="t" style="top:17.1px;font-size:7.3px;line-height:7.3px;-webkit-text-stroke-width:0.038em">+0%</div></div>
<div class="c R" style="left:487.9px;top:420.7px;width:34.3px;height:31.6px"><div class="t" style="top:7.94px;font-size:6.9px;line-height:6.9px;-webkit-text-stroke-width:0.038em">PC1</div><div class="t" style="top:16.18px;font-size:6.9px;line-height:6.9px;-webkit-text-stroke-width:0.038em">-0.88%</div></div>
<div class="c R" style="left:524.2px;top:420.7px;width:32.6px;height:29.8px"><div class="t" style="top:10.2px;font-size:5.8px;line-height:5.8px;-webkit-text-stroke-width:0.038em">KHG</div><div class="t" style="top:16.29px;font-size:5.8px;line-height:5.8px;-webkit-text-stroke-width:0.038em">-1.4%</div></div>
<div class="c R" style="left:558.8px;top:420.7px;width:30.5px;height:29.8px"><div class="t" style="top:10.47px;font-size:5.6px;line-height:5.6px;-webkit-text-stroke-width:0.038em">HBC</div><div class="t" style="top:16.35px;font-size:5.6px;line-height:5.6px;-webkit-text-stroke-width:0.038em">-2.88%</div></div>
<div class="c G" style="left:591px;top:420.7px;width:30.5px;height:29.8px"><div class="d" style="top:9.59px;font-size:8px;line-height:8px;letter-spacing:0.96px">...</div></div>
<div class="c G" style="left:623.2px;top:420.7px;width:29.3px;height:29.8px"><div class="d" style="top:9.59px;font-size:8px;line-height:8px;letter-spacing:0.96px">...</div></div>
<div class="c R" style="left:487.9px;top:454.4px;width:34.3px;height:31.5px"><div class="t" style="top:9.07px;font-size:6.8px;line-height:6.8px;-webkit-text-stroke-width:0.038em">DXS</div><div class="t" style="top:15.21px;font-size:6.8px;line-height:6.8px;-webkit-text-stroke-width:0.038em">-0.28%</div></div>
<div class="c R" style="left:487.9px;top:488.4px;width:34.3px;height:30.9px"><div class="t" style="top:8.87px;font-size:6.8px;line-height:6.8px;-webkit-text-stroke-width:0.038em">REE</div><div class="t" style="top:16.01px;font-size:6.8px;line-height:6.8px;-webkit-text-stroke-width:0.038em">-0.87%</div></div>
<div class="c R" style="left:487.9px;top:521.8px;width:34.3px;height:29.3px"><div class="t" style="top:7.52px;font-size:6px;line-height:6px;-webkit-text-stroke-width:0.038em">SCR</div><div class="t" style="top:13.82px;font-size:6px;line-height:6px;-webkit-text-stroke-width:0.038em">-1.15%</div></div>
<div class="c O" style="left:487.9px;top:553.2px;width:34.3px;height:29.1px"><div class="t" style="top:9px;font-size:5.5px;line-height:5.5px;-webkit-text-stroke-width:0.038em">HDC</div><div class="t" style="top:14.78px;font-size:5.5px;line-height:5.5px;-webkit-text-stroke-width:0.038em">+0%</div></div>
<div class="c R" style="left:524.3px;top:452.8px;width:36.9px;height:22.6px"><div class="d" style="top:6.76px;font-size:7px;line-height:7px;letter-spacing:0.84px">...</div></div>
<div class="c R" style="left:563.7px;top:452.8px;width:28.3px;height:22.6px"><div class="d" style="top:6.76px;font-size:7px;line-height:7px;letter-spacing:0.84px">...</div></div>
<div class="c R" style="left:594.3px;top:452.8px;width:28.4px;height:22.6px"><div class="d" style="top:6.76px;font-size:7px;line-height:7px;letter-spacing:0.84px">...</div></div>
<div class="c G" style="left:624.7px;top:452.8px;width:27.8px;height:22.6px"><div class="d" style="top:6.76px;font-size:7px;line-height:7px;letter-spacing:0.84px">...</div></div>
<div class="c R" style="left:524.3px;top:477.7px;width:24.8px;height:26px"><div class="d" style="top:7.69px;font-size:8px;line-height:8px;letter-spacing:0.96px">...</div></div>
<div class="c R" style="left:551.1px;top:477.7px;width:25.3px;height:21.2px"><div class="d" style="top:6.06px;font-size:7px;line-height:7px;letter-spacing:0.84px">...</div></div>
<div class="c G" style="left:578.4px;top:477.7px;width:24.3px;height:21.2px"><div class="d" style="top:6.06px;font-size:7px;line-height:7px;letter-spacing:0.84px">...</div></div>
<div class="c O" style="left:605px;top:477.7px;width:22.6px;height:21.2px"><div class="d" style="top:6.06px;font-size:7px;line-height:7px;letter-spacing:0.84px">...</div></div>
<div class="c R" style="left:629.9px;top:477.7px;width:22.6px;height:21.2px"><div class="d" style="top:6.06px;font-size:7px;line-height:7px;letter-spacing:0.84px">...</div></div>
<div class="c R" style="left:524.3px;top:506.2px;width:24.8px;height:25.5px"><div class="d" style="top:7.44px;font-size:8px;line-height:8px;letter-spacing:0.96px">...</div></div>
<div class="c G" style="left:524.3px;top:533.9px;width:24.8px;height:23.4px"><div class="d" style="top:7.16px;font-size:7px;line-height:7px;letter-spacing:0.84px">...</div></div>
<div class="c R" style="left:524.3px;top:559.8px;width:24.8px;height:22.5px"><div class="d" style="top:6.71px;font-size:7px;line-height:7px;letter-spacing:0.84px">...</div></div>
<div class="c G" style="left:551.1px;top:500.9px;width:22.4px;height:18.4px"><div class="d" style="top:4.66px;font-size:7px;line-height:7px;letter-spacing:0.84px">...</div></div>
<div class="c G" style="left:551.1px;top:522.1px;width:22.4px;height:16.2px"><div class="d" style="top:4.73px;font-size:5.5px;line-height:5.5px;letter-spacing:0.66px">...</div></div>
<div class="c G" style="left:551.1px;top:541.1px;width:22.4px;height:13.8px"><div class="d" style="top:3.53px;font-size:5.5px;line-height:5.5px;letter-spacing:0.66px">...</div></div>
<div class="c R" style="left:551.1px;top:557.2px;width:22.4px;height:12px"><div class="d" style="top:3.41px;font-size:4.5px;line-height:4.5px;letter-spacing:0.54px">...</div></div>
<div class="c G" style="left:551.1px;top:571.9px;width:22.4px;height:10.4px"><div class="d" style="top:2.61px;font-size:4.5px;line-height:4.5px;letter-spacing:0.54px">...</div></div>
<div class="c O" style="left:575.3px;top:500.9px;width:19.1px;height:13px"><div class="d" style="top:3.13px;font-size:5.5px;line-height:5.5px;letter-spacing:0.66px">...</div></div>
<div class="c O" style="left:596.7px;top:500.9px;width:17.7px;height:13px"><div class="d" style="top:3.13px;font-size:5.5px;line-height:5.5px;letter-spacing:0.66px">...</div></div>
<div class="c G" style="left:616.4px;top:500.9px;width:17.2px;height:13px"><div class="d" style="top:3.13px;font-size:5.5px;line-height:5.5px;letter-spacing:0.66px">...</div></div>
<div class="c P" style="left:635.8px;top:500.9px;width:16.7px;height:13px"><div class="d" style="top:3.13px;font-size:5.5px;line-height:5.5px;letter-spacing:0.66px">...</div></div>
<div class="c R" style="left:575.3px;top:516.1px;width:16.5px;height:12.7px"><div class="d" style="top:3.76px;font-size:4.5px;line-height:4.5px;letter-spacing:0.54px">...</div></div>
<div class="c R" style="left:575.3px;top:531.1px;width:16.5px;height:12px"><div class="d" style="top:3.41px;font-size:4.5px;line-height:4.5px;letter-spacing:0.54px">...</div></div>
<div class="c O" style="left:575.3px;top:545.8px;width:16.5px;height:11.3px"><div class="d" style="top:3.06px;font-size:4.5px;line-height:4.5px;letter-spacing:0.54px">...</div></div>
<div class="c O" style="left:575.3px;top:559.1px;width:16.5px;height:10.6px"><div class="d" style="top:2.71px;font-size:4.5px;line-height:4.5px;letter-spacing:0.54px">...</div></div>
<div class="c G" style="left:575.3px;top:572.1px;width:16.5px;height:10.2px"></div>
<div class="c O" style="left:593.8px;top:516.1px;width:14.1px;height:12px"><div class="d" style="top:3.41px;font-size:4.5px;line-height:4.5px;letter-spacing:0.54px">...</div></div>
<div class="c R" style="left:610.2px;top:516.1px;width:12.7px;height:12px"></div>
<div class="c G" style="left:625.1px;top:516.1px;width:12.5px;height:12px"></div>
<div class="c G" style="left:639.9px;top:516.1px;width:12.6px;height:12px"></div>
<div class="c O" style="left:593.8px;top:530.6px;width:11.1px;height:12.2px"></div>
<div class="c G" style="left:593.8px;top:545.3px;width:11.1px;height:10.6px"></div>
<div class="c P" style="left:593.8px;top:558.4px;width:11.1px;height:10.8px"></div>
<div class="c R" style="left:593.8px;top:571.9px;width:11.1px;height:10.4px"></div>
<div class="c G" style="left:607.3px;top:530.6px;width:14.2px;height:8.2px"></div>
<div class="c G" style="left:623.5px;top:530.6px;width:14.1px;height:8.2px"></div>
<div class="c G" style="left:639.9px;top:530.6px;width:12.6px;height:8.2px"></div>
<div class="c G" style="left:606.9px;top:541.1px;width:9.4px;height:9.6px"></div>
<div class="c G" style="left:606.9px;top:553.2px;width:9.4px;height:8.9px"></div>
<div class="c R" style="left:606.9px;top:564.3px;width:9.4px;height:7.7px"></div>
<div class="c R" style="left:606.9px;top:574.5px;width:9.4px;height:7.8px"></div>
<div class="c R" style="left:618.5px;top:541.1px;width:9.6px;height:4.8px"></div>
<div class="c R" style="left:630.6px;top:541.1px;width:9.9px;height:4.8px"></div>
<div class="c P" style="left:642.5px;top:541.1px;width:10px;height:4.8px"></div>
<div class="c G" style="left:618.5px;top:548.4px;width:6.5px;height:7.7px"></div>
<div class="c R" style="left:618.5px;top:558.4px;width:6.5px;height:6.5px"></div>
<div class="c G" style="left:618.5px;top:567.2px;width:6.5px;height:6.7px"></div>
<div class="c G" style="left:618.5px;top:576.2px;width:6.5px;height:6.1px"></div>
<div class="c O" style="left:627px;top:548.4px;width:7.8px;height:5.8px"></div>
<div class="c G" style="left:637.3px;top:548.4px;width:6.3px;height:5.8px"></div>
<div class="c G" style="left:645.8px;top:548.4px;width:6.7px;height:5.8px"></div>
<div class="c G" style="left:627px;top:556px;width:7.1px;height:4.2px"></div>
<div class="c G" style="left:636.5px;top:556px;width:6.6px;height:4.2px"></div>
<div class="c O" style="left:645.8px;top:556px;width:6.7px;height:4.2px"></div>
<div class="c O" style="left:627px;top:562.2px;width:5.2px;height:4.6px"></div>
<div class="c G" style="left:627px;top:569.1px;width:5.2px;height:3.6px"></div>
<div class="c O" style="left:627px;top:575px;width:5.2px;height:3px"></div>
<div class="c R" style="left:627px;top:579.7px;width:5.2px;height:2.6px"></div>
<div class="c R" style="left:633.7px;top:562.2px;width:3.6px;height:3.4px"></div>
<div class="c G" style="left:639.2px;top:562.2px;width:3.5px;height:3.4px"></div>
<div class="c R" style="left:644.7px;top:562.2px;width:3.4px;height:3.4px"></div>
<div class="c G" style="left:634.1px;top:567.3px;width:2.6px;height:2.6px"></div>
<div class="c G" style="left:664px;top:317.9px;width:130.1px;height:63.4px"><div class="t" style="top:18.91px;font-size:12.9px;line-height:12.9px">PVS</div><div class="t" style="top:32.45px;font-size:12.9px;line-height:12.9px">+3.05%</div></div>
<div class="c G" style="left:664px;top:383.6px;width:130.1px;height:57.7px"><div class="t" style="top:16.69px;font-size:11.6px;line-height:11.6px">PVD</div><div class="t" style="top:28.87px;font-size:11.6px;line-height:11.6px">+2.35%</div></div>
<div class="c G" style="left:796.1px;top:317.9px;width:46.6px;height:51.5px"><div class="t" style="top:17.41px;font-size:8.6px;line-height:8.6px;-webkit-text-stroke-width:0.038em">KSB</div><div class="t" style="top:26.44px;font-size:8.6px;line-height:8.6px;-webkit-text-stroke-width:0.038em">+0.57%</div></div>
<div class="c G" style="left:796.1px;top:371.4px;width:46.6px;height:33.3px"><div class="t" style="top:8.85px;font-size:7px;line-height:7px;-webkit-text-stroke-width:0.038em">PVC</div><div class="t" style="top:16.2px;font-size:7px;line-height:7px;-webkit-text-stroke-width:0.038em">+4.05%</div></div>
<div class="c P" style="left:796.1px;top:406.9px;width:18px;height:21.1px"><div class="d" style="top:7.18px;font-size:5.5px;line-height:5.5px;letter-spacing:0.66px">...</div></div>
<div class="c R" style="left:796.1px;top:430px;width:18px;height:11.3px"><div class="d" style="top:3.06px;font-size:4.5px;line-height:4.5px;letter-spacing:0.54px">...</div></div>
<div class="c O" style="left:816.1px;top:406.9px;width:14.7px;height:12.6px"><div class="d" style="top:3.71px;font-size:4.5px;line-height:4.5px;letter-spacing:0.54px">...</div></div>
<div class="c G" style="left:832.7px;top:406.9px;width:10px;height:12.6px"></div>
<div class="c G" style="left:816.1px;top:421.5px;width:10.2px;height:12px"></div>
<div class="c G" style="left:827.8px;top:421.5px;width:6.3px;height:7.6px"></div>
<div class="c G" style="left:836.1px;top:421.5px;width:6.6px;height:7.6px"></div>
<div class="c G" style="left:827.8px;top:431.6px;width:6.3px;height:4.2px"></div>
<div class="c O" style="left:816.1px;top:435.5px;width:10.2px;height:5.8px"></div>
<div class="c G" style="left:663.8px;top:475.5px;width:94.9px;height:107px"><div class="t" style="top:30.72px;font-size:19.2px;line-height:19.2px">IDC</div><div class="t" style="top:51.88px;font-size:19.2px;line-height:19.2px">+4.56%</div></div>
<div class="c R" style="left:760.6px;top:475.5px;width:82px;height:29.5px"><div class="t" style="top:9.25px;font-size:5.8px;line-height:5.8px;-webkit-text-stroke-width:0.038em">POW</div><div class="t" style="top:15.34px;font-size:5.8px;line-height:5.8px;-webkit-text-stroke-width:0.038em">-0.37%</div></div>
<div class="c G" style="left:760.6px;top:506.8px;width:47.5px;height:35.7px"><div class="t" style="top:10.16px;font-size:7.8px;line-height:7.8px;-webkit-text-stroke-width:0.038em">GAS</div><div class="t" style="top:18.35px;font-size:7.8px;line-height:7.8px;-webkit-text-stroke-width:0.038em">+2.38%</div></div>
<div class="c O" style="left:760.6px;top:544.6px;width:47.5px;height:19.6px"><div class="d" style="top:5.26px;font-size:7px;line-height:7px;letter-spacing:0.84px">...</div></div>
<div class="c R" style="left:760.6px;top:566.3px;width:47.5px;height:16.2px"><div class="d" style="top:4.73px;font-size:5.5px;line-height:5.5px;letter-spacing:0.66px">...</div></div>
<div class="c G" style="left:809.9px;top:506.8px;width:32.7px;height:19.9px"><div class="d" style="top:5.41px;font-size:7px;line-height:7px;letter-spacing:0.84px">...</div></div>
<div class="c G" style="left:809.9px;top:528.8px;width:32.7px;height:13.7px"><div class="d" style="top:3.48px;font-size:5.5px;line-height:5.5px;letter-spacing:0.66px">...</div></div>
<div class="c G" style="left:809.9px;top:544.6px;width:17.2px;height:15.4px"><div class="d" style="top:4.33px;font-size:5.5px;line-height:5.5px;letter-spacing:0.66px">...</div></div>
<div class="c G" style="left:828.9px;top:544.6px;width:13.7px;height:15.4px"><div class="d" style="top:4.33px;font-size:5.5px;line-height:5.5px;letter-spacing:0.66px">...</div></div>
<div class="c G" style="left:809.9px;top:561.9px;width:9.3px;height:9.9px"></div>
<div class="c G" style="left:809.9px;top:573.7px;width:9.3px;height:3.6px"></div>
<div class="c O" style="left:809.9px;top:579.1px;width:9.3px;height:3.4px"></div>
<div class="c R" style="left:821px;top:561.9px;width:6.3px;height:4.3px"></div>
<div class="c R" style="left:821px;top:568.5px;width:6.3px;height:4.3px"></div>
<div class="c R" style="left:821px;top:574.7px;width:6.3px;height:3.1px"></div>
<div class="c O" style="left:829.2px;top:561.9px;width:6px;height:2.5px"></div>
<div class="c R" style="left:837.1px;top:561.9px;width:5.5px;height:2.5px"></div>
<div class="c P" style="left:828.9px;top:570.3px;width:3.2px;height:3.4px"></div>
<div class="c R" style="left:829.2px;top:575.7px;width:2.6px;height:2.6px"></div>
<div class="c G" style="left:853.9px;top:318.1px;width:53.7px;height:45.3px"><div class="t" style="top:12.48px;font-size:9.6px;line-height:9.6px">PVT</div><div class="t" style="top:22.56px;font-size:9.6px;line-height:9.6px">+1.69%</div></div>
<div class="c R" style="left:909.4px;top:318.1px;width:48.8px;height:45.3px"><div class="t" style="top:13.35px;font-size:9.7px;line-height:9.7px">VJC</div><div class="t" style="top:22.53px;font-size:9.7px;line-height:9.7px">-0.41%</div></div>
<div class="c G" style="left:960.1px;top:318.1px;width:42.1px;height:21.8px"><div class="d" style="top:6.36px;font-size:7px;line-height:7px;letter-spacing:0.84px">...</div></div>
<div class="c R" style="left:960.1px;top:341.8px;width:42.1px;height:21.6px"><div class="d" style="top:6.26px;font-size:7px;line-height:7px;letter-spacing:0.84px">...</div></div>
<div class="c G" style="left:1004px;top:318.1px;width:31.2px;height:28.2px"><div class="t" style="top:8.64px;font-size:5.8px;line-height:5.8px;-webkit-text-stroke-width:0.038em">HAH</div><div class="t" style="top:14.74px;font-size:5.8px;line-height:5.8px;-webkit-text-stroke-width:0.038em">+1.02%</div></div>
<div class="c G" style="left:1004px;top:348.3px;width:31.2px;height:15.1px"><div class="d" style="top:4.18px;font-size:5.5px;line-height:5.5px;letter-spacing:0.66px">...</div></div>
<div class="c O" style="left:1037px;top:318.1px;width:20.9px;height:14.6px"><div class="d" style="top:3.93px;font-size:5.5px;line-height:5.5px;letter-spacing:0.66px">...</div></div>
<div class="c R" style="left:1059.9px;top:318.1px;width:12.5px;height:14.6px"><div class="d" style="top:4.71px;font-size:4.5px;line-height:4.5px;letter-spacing:0.54px">...</div></div>
<div class="c R" style="left:1037px;top:334.9px;width:16.2px;height:11.2px"></div>
<div class="c O" style="left:1037px;top:347.9px;width:16.2px;height:7.1px"></div>
<div class="c R" style="left:1037px;top:357px;width:16.2px;height:6.4px"></div>
<div class="c R" style="left:1055.2px;top:334.9px;width:17.2px;height:5.4px"></div>
<div class="c O" style="left:1055.2px;top:342.3px;width:8.5px;height:4px"></div>
<div class="c G" style="left:1065.5px;top:342.3px;width:6.9px;height:4px"></div>
<div class="c O" style="left:1055.2px;top:348.3px;width:4.9px;height:5.6px"></div>
<div class="c G" style="left:1055.2px;top:355.4px;width:4.9px;height:3.7px"></div>
<div class="c O" style="left:1055.2px;top:360.6px;width:4.9px;height:2.8px"></div>
<div class="c G" style="left:972.6px;top:397.8px;width:69.5px;height:30.7px"><div class="t" style="top:8.19px;font-size:6.5px;line-height:6.5px;-webkit-text-stroke-width:0.038em">FPT</div><div class="t" style="top:15.01px;font-size:6.5px;line-height:6.5px;-webkit-text-stroke-width:0.038em">+2.34%</div></div>
<div class="c G" style="left:1043.7px;top:397.8px;width:28.9px;height:9px"><div class="d" style="top:1.91px;font-size:4.5px;line-height:4.5px;letter-spacing:0.54px">...</div></div>
<div class="c G" style="left:1043.7px;top:408.6px;width:20.3px;height:10.3px"><div class="d" style="top:2.56px;font-size:4.5px;line-height:4.5px;letter-spacing:0.54px">...</div></div>
<div class="c G" style="left:1043.7px;top:420.7px;width:20.3px;height:7.8px"><div class="d" style="top:1.31px;font-size:4.5px;line-height:4.5px;letter-spacing:0.54px">...</div></div>
<div class="c R" style="left:1066px;top:408.6px;width:6.6px;height:8.2px"></div>
<div class="c R" style="left:1066px;top:418.5px;width:6.6px;height:3px"></div>
<div class="c G" style="left:854px;top:485px;width:63.2px;height:35.7px"><div class="t" style="top:10.15px;font-size:7.8px;line-height:7.8px;-webkit-text-stroke-width:0.038em">MWG</div><div class="t" style="top:18.35px;font-size:7.8px;line-height:7.8px;-webkit-text-stroke-width:0.038em">-0.13%</div></div>
<div class="c G" style="left:918.9px;top:485px;width:29.5px;height:17px"><div class="d" style="top:5.13px;font-size:5.5px;line-height:5.5px;letter-spacing:0.66px">...</div></div>
<div class="c O" style="left:918.9px;top:504.2px;width:29.5px;height:16.5px"><div class="d" style="top:4.88px;font-size:5.5px;line-height:5.5px;letter-spacing:0.66px">...</div></div>
<div class="c R" style="left:950.1px;top:485px;width:11px;height:17.7px"></div>
<div class="c R" style="left:950.1px;top:504.7px;width:11px;height:14.2px"></div>
<div class="c R" style="left:854px;top:555.5px;width:38px;height:26.9px"><div class="d" style="top:8.14px;font-size:8px;line-height:8px;letter-spacing:0.96px">...</div></div>
<div class="c R" style="left:893.7px;top:555.5px;width:32.5px;height:26.9px"><div class="d" style="top:8.14px;font-size:8px;line-height:8px;letter-spacing:0.96px">...</div></div>
<div class="c G" style="left:927.9px;top:555.5px;width:26.7px;height:26.9px"><div class="d" style="top:8.14px;font-size:8px;line-height:8px;letter-spacing:0.96px">...</div></div>
<div class="c R" style="left:956.3px;top:555.5px;width:4.8px;height:20.7px"></div>
<div class="c G" style="left:956.3px;top:577.9px;width:4.8px;height:3.4px"></div>
<div style="position:absolute;left:969.3px;top:436.5px;width:66.9px;height:9.9px;border-radius:2px;background:linear-gradient(90deg,#e6e6e6 0%,#fbfbfb 50%,#e6e6e6 100%);"><div class="d" style="top:-0.2px;font-size:6px;line-height:6px;letter-spacing:.8px;color:#333">...</div></div>
<div style="position:absolute;left:1040.7px;top:436.5px;width:10.8px;height:9.9px;border-radius:2px;background:#f4f4f4;box-shadow:inset 0 0 0 1px #ececec;"></div>
<div style="position:absolute;left:1056.4px;top:436.5px;width:8.2px;height:9.9px;border-radius:2px;background:#f4f4f4;box-shadow:inset 0 0 0 1px #ececec;"></div>
<div style="position:absolute;left:1069.4px;top:436.5px;width:6.4px;height:9.9px;border-radius:2px;background:#f4f4f4;box-shadow:inset 0 0 0 1px #ececec;"></div>
<svg style="position:absolute;left:995.7px;top:487.1px" width="53.7" height="53.2" viewBox="0 0 53.7 53.2"><path d="M0 27.9 L0 3 Q0 0 3 0 L11 0 L17.5 9.7 L17.5 20.1 L13 27.9 Z" fill="#c6c6c6"/><path d="M44.1 0 L53.6 0 L53.6 5.2 L46.1 5.2 Z" fill="#c6c6c6"/><path d="M27.3 42.8 L37 34.4 L43.5 34.4 L53.6 38.3 L53.6 50 Q53.6 53 50.6 53 L27.3 53 Z" fill="#c6c6c6"/><polygon points="13.6,0 32.5,0 31.2,7.1 19.5,9.7" fill="#df1a05"/><polygon points="34.4,0.6 41.5,0.6 44.1,5.8 41.5,12.3 35.7,13 33.1,8.4" fill="#df1a05"/><polygon points="46.1,7.8 53.6,7.1 53.6,16.9 47.4,16.2 43.5,13.6" fill="#df1a05"/><polygon points="19.5,11.7 31.8,9.7 35.1,14.9 32.5,20.1 19.5,19.5" fill="#df1a05"/><polygon points="37.6,15.6 43.5,16.2 45.4,18.8 42.8,31.8 37.6,31.8 34.4,21.4" fill="#df1a05"/><polygon points="47.4,18.8 53.6,18.2 53.6,36.4 45.4,32.5" fill="#df1a05"/><polygon points="19.5,22.1 31.8,22.1 35.7,32.5 27.9,40.2 20.1,35.1 14.3,27.9" fill="#df1a05"/><polygon points="0,29.9 11.7,29.2 16.9,34.4 13,40.2 0,40.9" fill="#df1a05"/><polygon points="0,42.8 11.7,42.8 14.3,53 0,53" fill="#df1a05"/><polygon points="18.2,36.4 25.3,42.2 24,53 16.9,53 14.3,42.2" fill="#df1a05"/></svg>
<div style="position:absolute;left:969px;width:107px;text-align:center;top:540.98px;font-size:11.6px;line-height:11.6px;color:#de2024;-webkit-text-stroke:0.25px #de2024;">FoamTree</div>
<div class="lg" style="left:3.3px;background:#820a9a"></div><div class="lt" style="left:40.7px">Tăng trần: 38</div>
<div class="lg" style="left:163px;background:#059014"></div><div class="lt" style="left:201px">Tăng giá: 310</div>
<div class="lg" style="left:326px;background:#ffa319"></div><div class="lt" style="left:364px">Đứng giá: 859</div>
<div class="lg" style="left:492.7px;background:#d60000"></div><div class="lt" style="left:531.7px">Giảm giá: 381</div>
<div class="lg" style="left:659.1px;background:#0c84e4"></div><div class="lt" style="left:696.1px">Giảm sàn: 19</div>
<div style="position:absolute;left:872px;top:591px;width:166px;height:50px;background:#f6f7f9;border:1px solid #e6e7e9;box-sizing:border-box;"></div>
<div style="position:absolute;left:882.9px;top:603.33px;font-size:17.8px;line-height:17.8px;color:#a3a3a3;white-space:nowrap;">Mã CK</div>
<svg style="position:absolute;left:1046px;top:600px" width="26" height="26" viewBox="0 0 26 26">
<defs><radialGradient id="lg1" cx="48%" cy="52%" r="55%"><stop offset="0" stop-color="#4a8aca"/><stop offset="0.55" stop-color="#3358b0"/><stop offset="1" stop-color="#2a3d98"/></radialGradient></defs>
<circle cx="12.3" cy="12.3" r="11.6" fill="url(#lg1)"/>
<polygon points="7.67,11.95 14.79,16.39 14.05,18.32 9.49,15.65 10.63,23.6 7.55,23.6 6.64,15.82 4.14,18.1 2.66,16.39" fill="#fff"/>
<polygon points="15.92,0.8 19.06,2.5 20.65,8.24 17.92,8.98" fill="#fff"/>
<polygon points="11.77,7.39 13.93,6.14 19.17,10.52 23.73,8.64 24.01,9.67 19.46,12.97 12.11,8.64" fill="#fff"/>
<polygon points="12.11,8.64 19.46,12.97 24.2,9.55 23.9,12.51 19.74,15.65 16.49,13.37" fill="#ee2430"/>
</svg>
</body></html>
